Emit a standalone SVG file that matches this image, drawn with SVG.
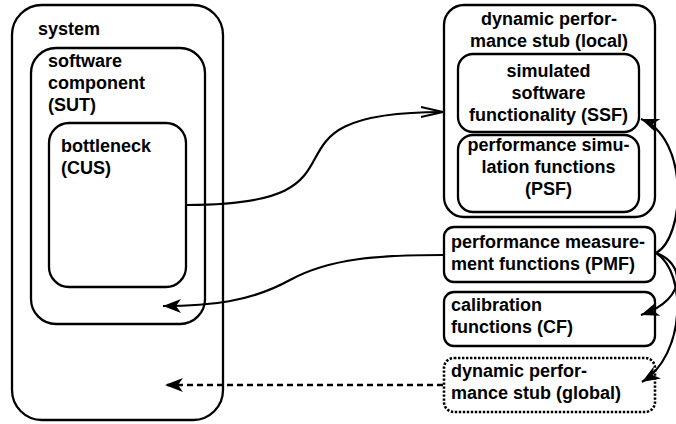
<svg xmlns="http://www.w3.org/2000/svg" width="676" height="424" viewBox="0 0 676 424">
<style>
.box{fill:#fff;stroke:#000;stroke-width:2.3}
.dot{fill:#fff;stroke:#000;stroke-width:2.6;stroke-dasharray:2.4 1.6}
.t{font-family:"Liberation Sans",Arial,sans-serif;font-weight:bold;font-size:18px;fill:#000}
.m{text-anchor:middle}
.ln{fill:none;stroke:#000;stroke-width:2.2}
.dash{fill:none;stroke:#000;stroke-width:2.4;stroke-dasharray:6 4}
</style>
<defs>
<marker id="fill" viewBox="-20 -8 21 16" refX="0" refY="0" markerWidth="21" markerHeight="16" markerUnits="userSpaceOnUse" orient="auto">
<path d="M0,0 L-18,-7 L-13,0 L-18,7 Z" fill="#000"/>
</marker>
<marker id="open" viewBox="-24 -7 26 14" refX="0" refY="0" markerWidth="26" markerHeight="14" markerUnits="userSpaceOnUse" orient="auto">
<path d="M-22,-5 L0,0 L-22,5" fill="none" stroke="#000" stroke-width="2"/>
</marker>
</defs>
<g id="system">
<rect class="box" x="12" y="5" width="211" height="415" rx="30"/>
<text class="t" x="38" y="35">system</text>
</g>
<g id="software-component">
<rect class="box" x="31" y="48" width="174" height="276" rx="25"/>
<text class="t" x="48" y="67">software</text>
<text class="t" x="48" y="89">component</text>
<text class="t" x="48" y="111">(SUT)</text>
</g>
<g id="bottleneck">
<rect class="box" x="49" y="123" width="137" height="164" rx="20"/>
<text class="t" x="61" y="152">bottleneck</text>
<text class="t" x="61" y="174">(CUS)</text>
</g>
<g id="stub-local">
<rect class="box" x="444" y="5" width="211" height="212" rx="20"/>
<text class="t m" x="549" y="25">dynamic perfor-</text>
<text class="t m" x="549" y="47">mance stub (local)</text>
</g>
<g id="ssf">
<rect class="box" x="458" y="54" width="181" height="78" rx="15"/>
<text class="t m" x="548.5" y="77">simulated</text>
<text class="t m" x="548.5" y="99">software</text>
<text class="t m" x="548.5" y="121">functionality (SSF)</text>
</g>
<g id="psf">
<rect class="box" x="458" y="135" width="181" height="77" rx="15"/>
<text class="t m" x="548.5" y="151">performance simu-</text>
<text class="t m" x="548.5" y="173">lation functions</text>
<text class="t m" x="548.5" y="195">(PSF)</text>
</g>
<g id="pmf">
<rect class="box" x="444" y="227" width="211" height="55" rx="10"/>
<text class="t" x="451" y="248">performance measure-</text>
<text class="t" x="451" y="270">ment functions (PMF)</text>
</g>
<g id="cf">
<rect class="box" x="444" y="292" width="211" height="54" rx="10"/>
<text class="t" x="451" y="311">calibration</text>
<text class="t" x="451" y="333">functions (CF)</text>
</g>
<g id="stub-global">
<rect class="dot" x="444" y="358" width="211" height="54" rx="10"/>
<text class="t" x="451" y="377">dynamic perfor-</text>
<text class="t" x="451" y="399">mance stub (global)</text>
</g>
<g id="connectors">
<path class="ln" d="M187,205 C393,205 237,112 443,112" marker-end="url(#open)"/>
<path class="ln" d="M443,255 C380,255 330,258 290,280 S210,306 163,306" marker-end="url(#fill)"/>
<path class="dash" d="M443,385 L165,385" marker-end="url(#fill)"/>
<path class="ln" d="M656,253 C685,238 690,138 641,119" marker-end="url(#fill)"/>
<path class="ln" d="M656,253 C683,262 690,298 641,315" marker-end="url(#fill)"/>
<path class="ln" d="M656,253 C687,272 686,355 642,382" marker-end="url(#fill)"/>
</g>
</svg>
